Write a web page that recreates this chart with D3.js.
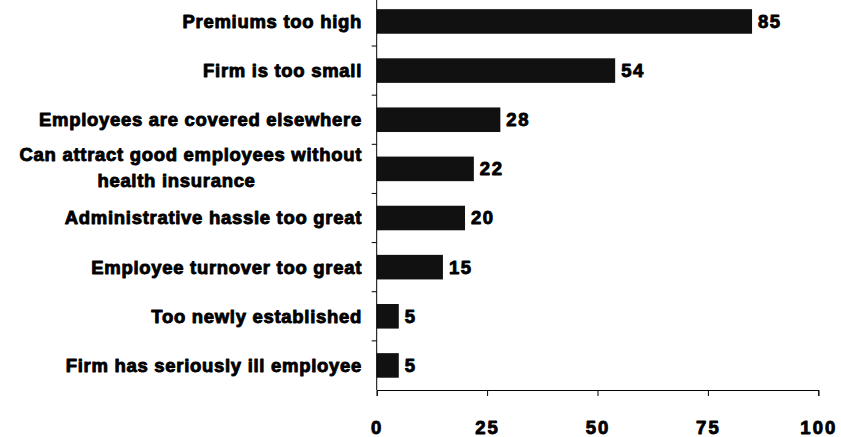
<!DOCTYPE html>
<html>
<head>
<meta charset="utf-8">
<script src="https://cdn.jsdelivr.net/npm/d3@7"></script>
<style>
  html, body { margin: 0; padding: 0; background: #fff; }
  svg { display: block; }
  text { font-family: "Liberation Sans", Arial, sans-serif; font-weight: bold; fill: #000; stroke: #000; stroke-width: 0.9px; stroke-linejoin: round; }
</style>
</head>
<body>
<svg id="chart" width="841" height="437"></svg>
<script>
const categories = [
  "Premiums too high",
  "Firm is too small",
  "Employees are covered elsewhere",
  "Can attract good employees without|health insurance",
  "Administrative hassle too great",
  "Employee turnover too great",
  "Too newly established",
  "Firm has seriously ill employee"
];
const values = [85, 54, 28, 22, 20, 15, 5, 5];
const tickValues = [0, 25, 50, 75, 100];

const svg = d3.select("#chart");
const x0 = 376.7, x1 = 818.3, yBottom = 390;
const step = 49.14;
const yTop = yBottom - step * categories.length;

const x = d3.scaleLinear().domain([0, 100]).range([x0, x1]);
const y = d3.scaleBand().domain(categories).range([yTop, yBottom]).paddingInner(0.5).paddingOuter(0.25);

// bars
svg.append("g").selectAll("rect")
  .data(categories)
  .join("rect")
  .attr("x", x(0))
  .attr("y", d => y(d))
  .attr("width", (d, i) => x(values[i]) - x(0))
  .attr("height", y.bandwidth())
  .attr("fill", "#111");

// y axis line and ticks (at category boundaries)
const gy = svg.append("g").attr("stroke", "#000").attr("stroke-width", 1);
gy.append("line").attr("x1", x0).attr("x2", x0).attr("y1", yTop).attr("y2", yBottom);
categories.forEach(c => {
  const b = y(c) - y.step() * y.paddingInner() / 2;
  gy.append("line").attr("x1", x0 - 5).attr("x2", x0).attr("y1", b).attr("y2", b);
});

// x axis
const xAxis = d3.axisBottom(x).tickValues(tickValues).tickSize(6).tickPadding(0).tickFormat(d3.format("d"));
const gx = svg.append("g").attr("transform", `translate(0,${yBottom})`).call(xAxis);
gx.select(".domain").attr("stroke", "#000").attr("stroke-width", 1);
gx.selectAll(".tick line").attr("stroke", "#000");
gx.selectAll(".tick text")
  .attr("font-family", null).attr("font-size", null)
  .attr("y", 44).attr("dy", 0)
  .style("font-size", "18.5px").style("letter-spacing", "2px");

// category labels
const labelX = 362;
const lg = svg.append("g").style("font-size", "18.5px").style("letter-spacing", "0.7px");
categories.forEach(c => {
  const parts = c.split("|");
  const cy = y(c) + y.bandwidth() / 2;
  if (parts.length === 1) {
    lg.append("text").attr("x", labelX).attr("y", cy).attr("dy", "0.35em")
      .attr("text-anchor", "end").text(parts[0]);
  } else {
    lg.append("text").attr("x", labelX).attr("y", cy - 14).attr("dy", "0.35em")
      .attr("text-anchor", "end").text(parts[0]);
    lg.append("text").attr("x", 176.5).attr("y", cy + 12).attr("dy", "0.35em")
      .attr("text-anchor", "middle").text(parts[1]);
  }
});

// value labels
svg.append("g").style("font-size", "18.5px").style("letter-spacing", "1.5px")
  .selectAll("text")
  .data(categories)
  .join("text")
  .attr("x", (d, i) => x(values[i]) + 6)
  .attr("y", d => y(d) + y.bandwidth() / 2)
  .attr("dy", "0.35em")
  .text((d, i) => values[i]);
</script>
</body>
</html>
